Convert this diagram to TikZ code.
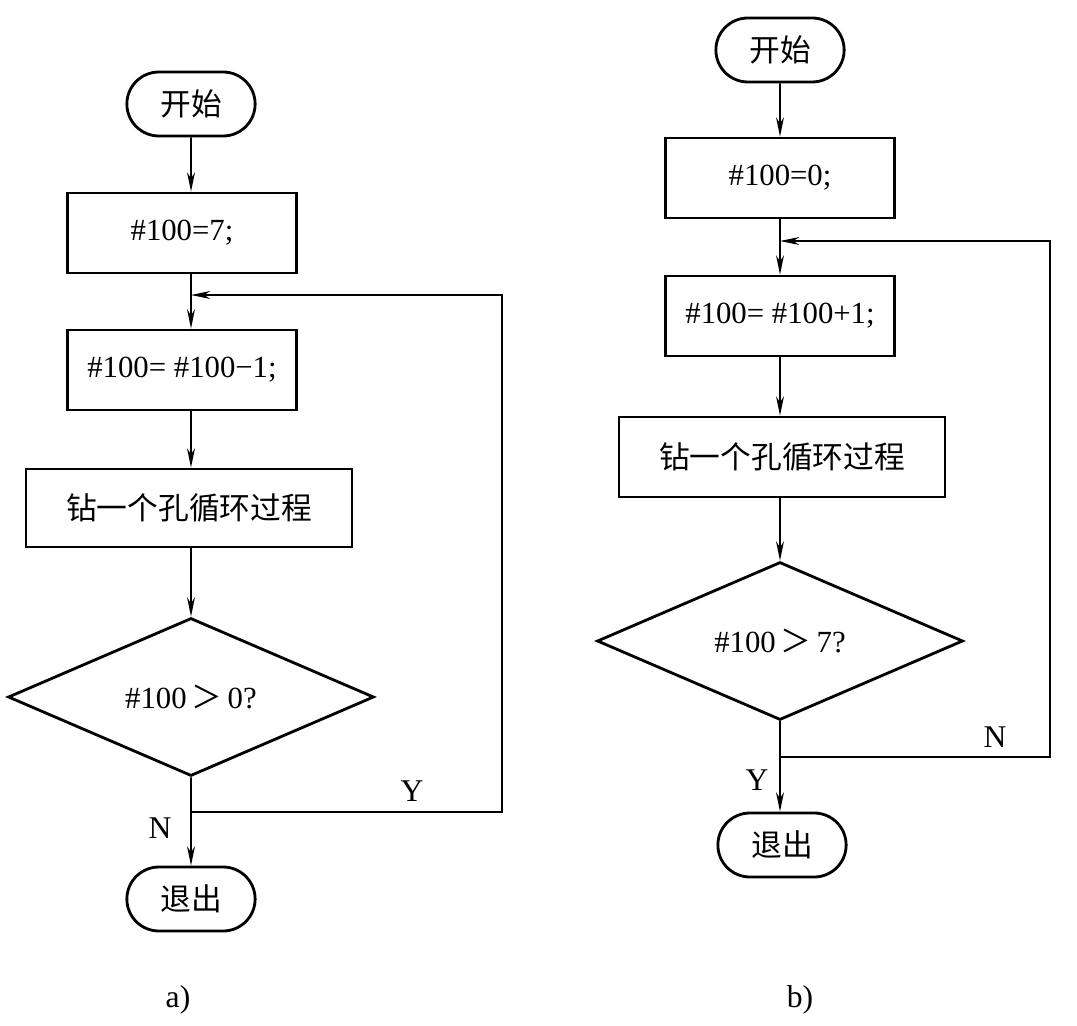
\documentclass[tikz,border=0pt]{standalone}
\usepackage{fontspec}
\setmainfont{Liberation Serif}
\newfontfamily\cjk{Noto Sans CJK SC}
\usetikzlibrary{arrows.meta,shapes.geometric,shapes.misc}

\tikzset{
  term/.style={draw,line width=1.6pt,rounded rectangle,minimum width=2.8cm,minimum height=1.28cm,font=\cjk\fontsize{17.5}{20}\selectfont},
  proc/.style={draw,line width=1.6pt,rectangle,minimum width=4.58cm,minimum height=1.6cm,font=\fontsize{17.5}{20}\selectfont},
  wide/.style={minimum width=6.52cm,font=\cjk\fontsize{17.5}{20}\selectfont},
  cond/.style={draw,line width=1.6pt,diamond,aspect=2.3,inner sep=0pt,minimum width=7.32cm,minimum height=3.16cm,font=\fontsize{17.5}{20}\selectfont},
  flow/.style={line width=0.9pt,-{Stealth[length=11pt,width=4.5pt,inset=3.5pt]}},
  back/.style={line width=0.7pt,-{Stealth[length=11pt,width=4.5pt,inset=3.5pt]}},
  lbl/.style={font=\fontsize{18}{20}\selectfont}
}

\begin{document}
\begin{tikzpicture}[x=0.02cm,y=-0.02cm]
    \useasboundingbox (0,0) rectangle (1077,1026);
    % a)
    \node[term] (a0) at (191,104) {开始};
    \node[proc] (a1) at (182,233) {\#100=7;};
    \node[proc] (a2) at (182,370) {\#100= \#100−1;};
    \node[proc,wide,minimum height=1.56cm] (a3) at (189,508) {钻一个孔循环过程};
    \node[cond] (a4) at (191,697) {\#100\,{\cjk ＞}\,0?};
    \node[term] (a5) at (191,899) {退出};
    \coordinate (aj) at (191,295);
    \coordinate (ab) at (191,812);
    \coordinate (ar) at (502,812);
    \draw[flow] (a0) -- (a0 |- a1.north);
    \draw[flow] (a0 |- a1.south) -- (a0 |- a2.north);
    \draw[flow] (a0 |- a2.south) -- (a0 |- a3.north);
    \draw[flow] (a0 |- a3.south) -- (a4);
    \draw[flow] (a4) -- (a5);
    \draw[back] (ab) -- (ar) |- (aj);
    \node[lbl] (ay) at (412,791) {Y};
    \node[lbl] (an) at (160,828) {N};
    \node[lbl] (acap) at (178,1000) {a)};
    % b)
    \node[term] (b0) at (780,50) {开始};
    \node[proc] (b1) at (780,178) {\#100=0;};
    \node[proc] (b2) at (780,316) {\#100= \#100+1;};
    \node[proc,wide] (b3) at (782,457) {钻一个孔循环过程};
    \node[cond] (b4) at (780,641) {\#100\,{\cjk ＞}\,7?};
    \node[term] (b5) at (782,845) {退出};
    \coordinate (bj) at (780,241);
    \coordinate (bb) at (780,757);
    \coordinate (br) at (1050,757);
    \foreach \s/\t in {b0/b1,b1/b2} \draw[flow] (\s) -- (\t);
    \draw[flow] (b2) -- (b2 |- b3.north);
    \draw[flow] (b2 |- b3.south) -- (b4);
    \draw[flow] (b4) -- (b4 |- b5.north);
    \draw[back] (bb) -- (br) |- (bj);
    \node[lbl] (bn) at (995,737) {N};
    \node[lbl] (by) at (757,780) {Y};
    \node[lbl] (bcap) at (800,1000) {b)};
  \end{tikzpicture}
\end{document}
